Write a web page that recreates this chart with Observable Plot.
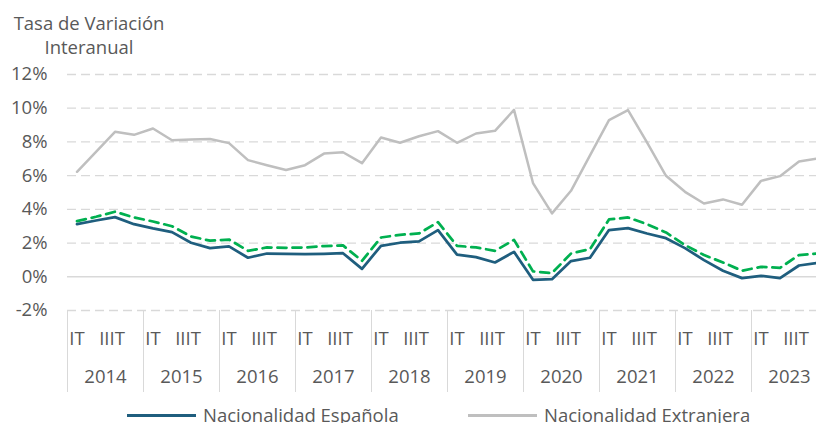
<!DOCTYPE html>
<html>
<head>
<meta charset="utf-8">
<script src="https://cdn.jsdelivr.net/npm/d3@7"></script>
<script src="https://cdn.jsdelivr.net/npm/@observablehq/plot@0.6"></script>
<style>
  html, body { margin: 0; padding: 0; background: #fff; }
  #wrap { position: relative; width: 816px; height: 423px; overflow: hidden; font-family: "Open Sans", sans-serif; color: #595959; }
  #title { position: absolute; left: 0; top: 11px; width: 178px; text-align: center; font-size: 18.5px; line-height: 24px; }
  #chart { position: absolute; left: 0; top: 0; }
  .leg { position: absolute; top: 404px; display: flex; align-items: center; font-size: 18.5px; line-height: 22px; white-space: nowrap; }
  .leg .sw { width: 69px; height: 0; margin-right: 7px; }
</style>
</head>
<body>
<div id="wrap">
  <div id="chart"></div>
  <div id="title">Tasa de Variación<br>Interanual</div>
  <div id="legend"></div>
</div>
<script>
// ---- Data ----
const years = ["2014","2015","2016","2017","2018","2019","2020","2021","2022","2023"];
const quarterLabels = ["IT", "IIIT"];
const yTicks = [-2, 0, 2, 4, 6, 8, 10, 12];
const seriesNames = ["Nacionalidad Española", "Nacionalidad Extranjera", "Total"];

const espanola = [3.12, 3.34, 3.54, 3.12, 2.87, 2.65, 2.02, 1.70, 1.80, 1.13,
                  1.38, 1.36, 1.34, 1.36, 1.40, 0.47, 1.84, 2.02, 2.10, 2.77,
                  1.32, 1.17, 0.85, 1.48, -0.18, -0.14, 0.93, 1.13, 2.77, 2.89,
                  2.57, 2.29, 1.70, 0.99, 0.36, -0.08, 0.06, -0.08, 0.67, 0.82];
const extranjera = [6.23, 7.41, 8.60, 8.42, 8.80, 8.10, 8.14, 8.17, 7.93, 6.92,
                    6.62, 6.33, 6.62, 7.31, 7.39, 6.74, 8.26, 7.95, 8.34, 8.64,
                    7.95, 8.50, 8.66, 9.90, 5.56, 3.76, 5.10, 7.20, 9.29, 9.89,
                    7.97, 5.99, 5.04, 4.35, 4.59, 4.27, 5.69, 5.97, 6.84, 7.02];
const total = [3.30, 3.56, 3.86, 3.52, 3.28, 3.00, 2.39, 2.14, 2.21, 1.54,
               1.74, 1.72, 1.74, 1.82, 1.86, 0.95, 2.33, 2.49, 2.57, 3.24,
               1.84, 1.74, 1.54, 2.19, 0.32, 0.22, 1.38, 1.64, 3.40, 3.52,
               3.12, 2.63, 1.88, 1.29, 0.85, 0.36, 0.59, 0.53, 1.29, 1.38];

const colors = ["#1f5e7e", "#bfbfbf", "#00b050"];

// ---- Build table ----
const rows = espanola.map((v, i) => ({ q: i + 0.5, esp: v, ext: extranjera[i], tot: total[i] }));
const nQ = years.length * 4;
const boundaries = d3.range(0, nQ + 1, 4);
const itPos = years.map((y, j) => j * 4 + 0.5);
const iiitPos = years.map((y, j) => j * 4 + 2.5);
const yearPos = years.map((y, j) => j * 4 + 2);

const FONT = "'Open Sans', sans-serif";

const chart = Plot.plot({
  width: 816,
  height: 400,
  marginLeft: 67,
  marginRight: 0,
  marginTop: 74,
  marginBottom: 90,
  x: { type: "linear", domain: [0, 749 / 19] },
  y: { domain: [-2, 12] },
  style: { fontFamily: FONT, fontSize: "18.5px", color: "#595959", background: "white" },
  marks: [
    Plot.ruleY(yTicks.filter(d => d !== 0), { stroke: "#d9d9d9", strokeWidth: 1.3, strokeDasharray: "9,5" }),
    Plot.ruleY([0], { stroke: "#d9d9d9", strokeWidth: 1.5 }),
    Plot.axisY({ ticks: yTicks, tickFormat: d => `${d}%`, tickSize: 0, tickPadding: 20, label: null, fill: "#595959", fontSize: 18.5, fontFamily: FONT }),
    Plot.axisX({ ticks: boundaries, tickSize: 82, tickFormat: () => "", stroke: "#d9d9d9", label: null }),
    Plot.axisX({ ticks: itPos, tickSize: 0, tickPadding: 21, tickFormat: () => quarterLabels[0], label: null, fill: "#595959", fontSize: 18.5, fontFamily: FONT }),
    Plot.axisX({ ticks: iiitPos, tickSize: 0, tickPadding: 21, tickFormat: () => quarterLabels[1], label: null, fill: "#595959", fontSize: 18.5, fontFamily: FONT, dx: -3 }),
    Plot.axisX({ ticks: yearPos, tickSize: 0, tickPadding: 59, tickFormat: d => years[Math.floor(d / 4)], label: null, fill: "#595959", fontSize: 18.5, fontFamily: FONT }),
    Plot.line(rows, { x: "q", y: "esp", stroke: colors[0], strokeWidth: 2.75 }),
    Plot.line(rows, { x: "q", y: "ext", stroke: colors[1], strokeWidth: 2.5 }),
    Plot.line(rows, { x: "q", y: "tot", stroke: colors[2], strokeWidth: 2.75, strokeDasharray: "9,6" })
  ]
});
document.getElementById("chart").appendChild(chart);

// ---- Legend (only the entries visible within the 816px frame) ----
const legendLeft = [127, 468];
const legend = document.getElementById("legend");
legendLeft.forEach((left, i) => {
  const item = document.createElement("div");
  item.className = "leg";
  item.style.left = left + "px";
  const sw = document.createElement("span");
  sw.className = "sw";
  sw.style.borderTop = `3px solid ${colors[i]}`;
  const t = document.createElement("span");
  t.textContent = seriesNames[i];
  item.appendChild(sw);
  item.appendChild(t);
  legend.appendChild(item);
});
</script>
</body>
</html>
